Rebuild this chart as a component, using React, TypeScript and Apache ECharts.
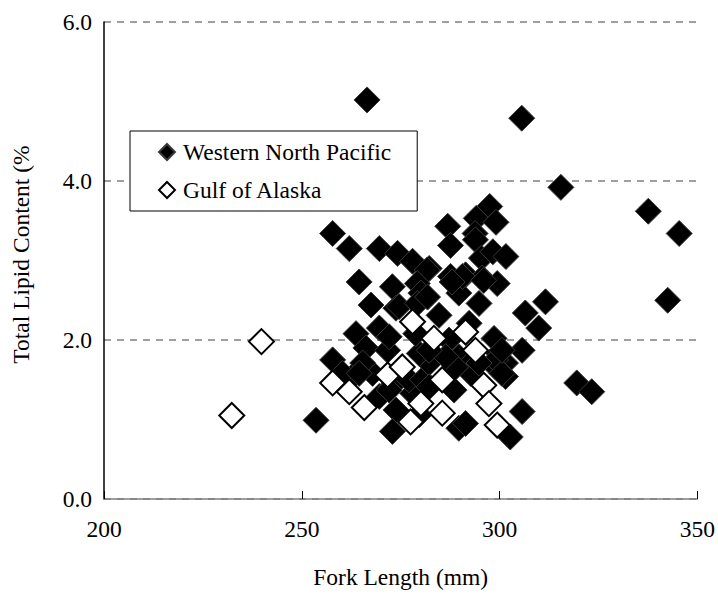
import React, { useEffect, useRef } from "react";
import * as echarts from "echarts";

const xTicks = [200, 250, 300, 350];
const yTicks = [0, 2, 4, 6];

const westernNorthPacific: [number, number][] = [
  [266.5, 5.02], [305.6, 4.79], [315.5, 3.92], [337.6, 3.62], [345.4, 3.34], [342.5, 2.5],
  [297.5, 3.68], [294.1, 3.53], [299.1, 3.48], [286.9, 3.43], [293.8, 3.34], [287.6, 3.19],
  [293.9, 3.26], [295.4, 3.03], [298.3, 3.11], [301.6, 3.05], [282.2, 2.9], [287.6, 2.8],
  [291.4, 2.82], [295.6, 2.78], [257.8, 3.34], [262.0, 3.15], [269.6, 3.15], [274.2, 3.09],
  [278.0, 2.99], [281.7, 2.88], [264.5, 2.73], [267.5, 2.44], [272.9, 2.67], [279.2, 2.71],
  [273.8, 2.4], [280.1, 2.59], [274.6, 2.42], [279.2, 2.46], [284.7, 2.31], [289.7, 2.59],
  [294.8, 2.46], [281.8, 2.54], [299.4, 2.71], [292.3, 2.21], [311.6, 2.48], [306.5, 2.34],
  [309.9, 2.15], [305.7, 1.87], [319.5, 1.46], [323.3, 1.35], [305.7, 1.1], [302.7, 0.78],
  [289.7, 0.89], [299.8, 1.83], [301.5, 1.71], [299.0, 1.66], [289.7, 1.79], [292.3, 1.69],
  [301.5, 1.54], [253.6, 0.99], [269.6, 2.15], [263.7, 2.08], [266.2, 1.9], [271.7, 1.87],
  [257.8, 1.75], [262.8, 1.54], [267.9, 1.58], [265.4, 1.71], [269.6, 1.29], [272.5, 1.41],
  [273.8, 1.12], [272.9, 0.85], [279.7, 1.06], [278.0, 1.33], [277.1, 1.5], [280.5, 1.5],
  [282.2, 1.71], [272.1, 2.04], [279.7, 1.83], [260.3, 1.58], [264.5, 1.58], [299.0, 1.75],
  [300.6, 1.58], [292.7, 1.58], [288.5, 1.37], [282.2, 1.41], [272.1, 1.37], [288.9, 1.66],
  [294.8, 1.71], [291.4, 0.95], [278.8, 2.08], [287.2, 2.0], [286.4, 1.79], [282.2, 1.87],
  [298.6, 2.02], [300.6, 1.87], [290.6, 2.8], [296.0, 2.75], [288.0, 2.73],
];

const gulfOfAlaska: [number, number][] = [
  [232.3, 1.05], [239.8, 1.98], [257.8, 1.46], [262.0, 1.35], [265.8, 1.15], [271.7, 1.56],
  [275.4, 1.66], [278.0, 2.23], [277.5, 0.97], [280.1, 1.2], [283.4, 2.02], [291.4, 2.1],
  [293.9, 1.87], [285.5, 1.5], [285.5, 1.08], [296.0, 1.43], [297.3, 1.2], [299.4, 0.93],
];

const FONT = "'Liberation Serif', 'Times New Roman', serif";
const FS = 23.5;

export default function App() {
  const ref = useRef<HTMLDivElement>(null);
  useEffect(() => {
    if (!ref.current) return;
    const chart = echarts.init(ref.current, undefined, { renderer: "svg" });
    chart.setOption({
      animation: false,
      backgroundColor: "#ffffff",
      textStyle: { fontFamily: FONT, color: "#000" },
      grid: { left: 104, right: 19, top: 22, bottom: 100, containLabel: false },
      legend: {
        orient: "vertical",
        left: 130,
        top: 131,
        padding: [9, 26, 9, 28],
        itemGap: 14,
        itemWidth: 16,
        itemHeight: 16,
        backgroundColor: "#fff",
        borderColor: "#000",
        borderWidth: 1,
        borderRadius: 0,
        textStyle: { fontFamily: FONT, fontSize: FS, color: "#000", padding: [0, 0, 0, 3] },
        data: ["Western North Pacific", "Gulf of Alaska"],
      },
      xAxis: {
        type: "value",
        min: xTicks[0],
        max: xTicks[xTicks.length - 1],
        interval: 50,
        name: "Fork Length (mm)",
        nameLocation: "middle",
        nameGap: 66,
        nameTextStyle: { fontFamily: FONT, fontSize: FS, color: "#000" },
        axisLine: { show: true, lineStyle: { color: "#808080", width: 1.5 } },
        axisTick: { show: true, inside: true, length: 8, lineStyle: { color: "#000" } },
        axisLabel: { fontFamily: FONT, fontSize: FS, color: "#000", margin: 18 },
        splitLine: { show: false },
      },
      yAxis: {
        type: "value",
        min: yTicks[0],
        max: yTicks[yTicks.length - 1],
        interval: 2,
        name: "Total Lipid Content (%",
        nameLocation: "middle",
        nameGap: 71,
        nameTextStyle: { fontFamily: FONT, fontSize: FS, color: "#000", padding: [0, 0, 0, 12] },
        axisLine: { show: true, lineStyle: { color: "#000", width: 1.5 } },
        axisTick: { show: false },
        axisLabel: {
          fontFamily: FONT,
          fontSize: FS,
          color: "#000",
          margin: 12,
          formatter: (v: number) => v.toFixed(1),
        },
        splitLine: { show: true, lineStyle: { color: "#808080", width: 1.5, type: [7, 6] } },
      },
      series: [
        {
          name: "Western North Pacific",
          type: "scatter",
          symbol: "diamond",
          symbolSize: 26,
          data: westernNorthPacific,
          itemStyle: { color: "#000", borderColor: "#3a3a3a", borderWidth: 1, opacity: 1 },
          z: 2,
        },
        {
          name: "Gulf of Alaska",
          type: "scatter",
          symbol: "diamond",
          symbolSize: 25,
          data: gulfOfAlaska,
          itemStyle: { color: "#fff", borderColor: "#000", borderWidth: 2, opacity: 1 },
          z: 3,
        },
      ],
    });
    return () => chart.dispose();
  }, []);
  return (
    <div
      ref={ref}
      style={{ position: "fixed", left: 0, top: 0, width: 718, height: 599 }}
    />
  );
}
